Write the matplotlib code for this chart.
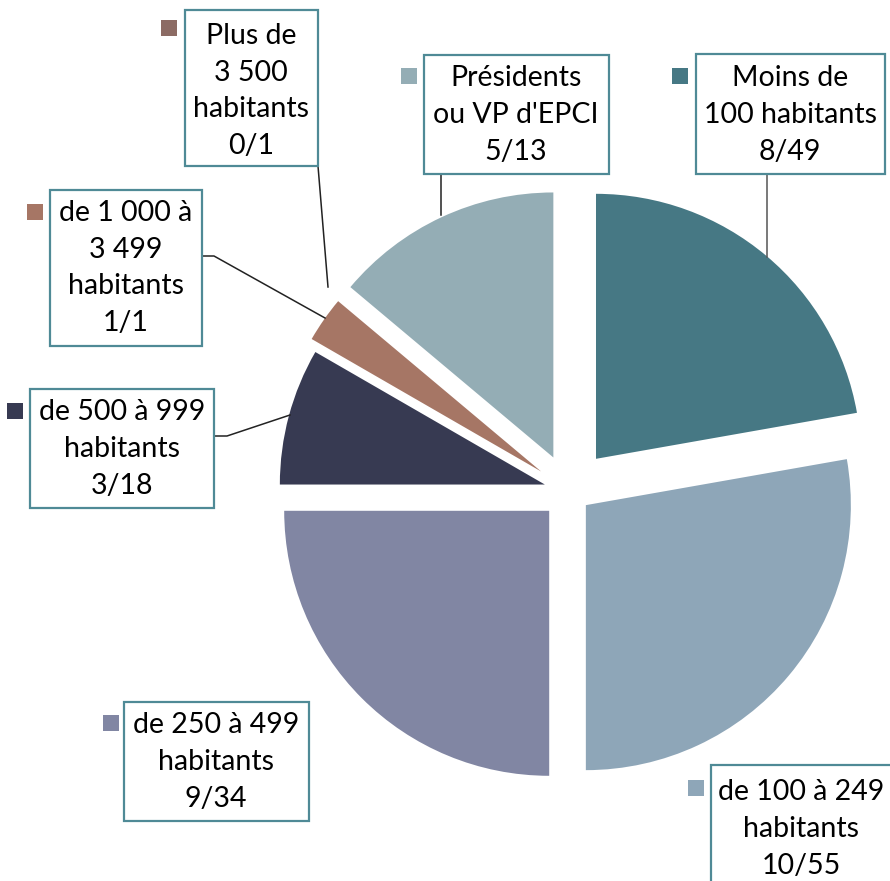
import matplotlib.pyplot as plt
from matplotlib.patches import Rectangle

# slices, clockwise from 12 o'clock
categories = ["Moins de\n100 habitants", "de 100 à 249\nhabitants", "de 250 à 499\nhabitants",
              "de 500 à 999\nhabitants", "de 1 000 à\n3 499\nhabitants", "Plus de\n3 500\nhabitants",
              "Présidents\nou VP d'EPCI"]
elus = [8, 10, 9, 3, 1, 0, 5]
totals = [49, 55, 34, 18, 1, 1, 13]
colors = ["#467884", "#8ea6b8", "#8186a3", "#373a52", "#a67665", "#8c6b64", "#94adb5"]

W, H = 890, 881
R = 265
# explode offsets in pixels (pie adds them unscaled)
explode = [42, 22, 28, 25, 34, 34, 37]

def fy(y):
    return H - y

fig = plt.figure(figsize=(W / 100, H / 100), dpi=100)
ax = fig.add_axes([0, 0, 1, 1])

ax.pie(elus, explode=explode, colors=colors, startangle=90, counterclock=False,
       radius=R, center=(569, fy(491)), wedgeprops=dict(linewidth=0))
ax.set_xlim(0, W)
ax.set_ylim(0, H)
ax.set_aspect("equal")
ax.axis("off")

# label boxes (x0, y0, x1, y1 in pixel coords, top-left origin), marker square position
boxes = [(696, 54, 885, 174), (711, 765, 905, 895), (124, 702, 309, 821),
         (30, 389, 214, 508), (50, 190, 202, 346), (185, 10, 318, 166), (424, 55, 609, 174)]
text_centers = [(790, 115), (801, 829), (216, 762), (122, 449), (126, 268), (251, 91), (516, 115)]
markers = [(672, 68), (688, 780), (103, 715), (7, 403), (27, 204), (161, 20), (401, 68)]
leaders = [[(767, 174), (767, 257)], None, None,
           [(214, 436), (227, 436), (290, 415)],
           [(202, 256), (214, 256), (325, 318)],
           [(318, 166), (328, 287)],
           [(441, 174), (441, 215)]]

for i, cat in enumerate(categories):
    x0, y0, x1, y1 = boxes[i]
    ax.add_patch(Rectangle((x0, fy(y1)), x1 - x0, y1 - y0, facecolor="white",
                           edgecolor="#4f8a96", linewidth=1.6, zorder=3, clip_on=True))
    tx, ty = text_centers[i]
    ax.text(tx, fy(ty), f"{cat}\n{elus[i]}/{totals[i]}", ha="center", va="center",
            fontsize=20.5, family=["Lato", "DejaVu Sans"], linespacing=1.52, zorder=4)
    mx, my = markers[i]
    ax.add_patch(Rectangle((mx, fy(my + 16)), 16, 16, facecolor=colors[i],
                           edgecolor="none", zorder=3))
    if leaders[i]:
        xs = [p[0] for p in leaders[i]]
        ys = [fy(p[1]) for p in leaders[i]]
        ax.plot(xs, ys, color="#222222" if i > 2 else "#555555", linewidth=1.1, zorder=2)

fig.savefig("out.png", dpi=100)
